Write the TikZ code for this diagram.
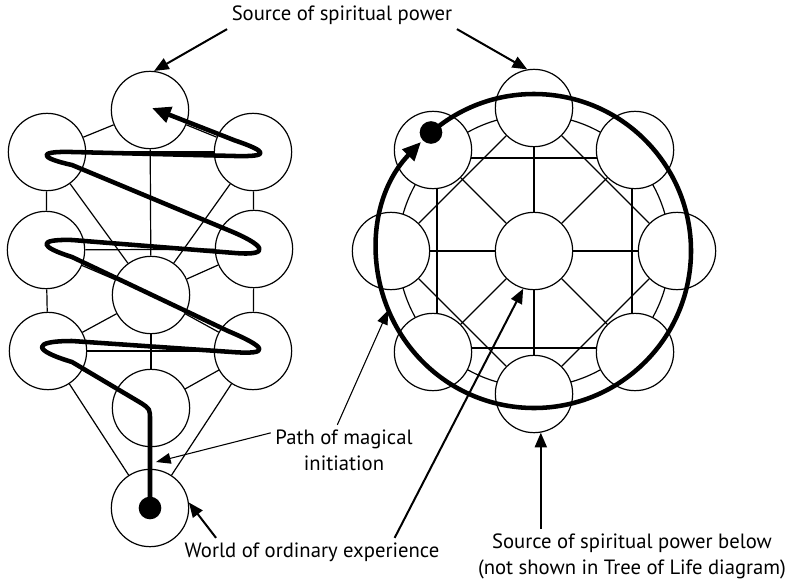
\documentclass[tikz,border=0pt]{standalone}
\usepackage{fontspec}
\setmainfont{PT Sans}
\usetikzlibrary{arrows.meta,calc}

\begin{document}
\begin{tikzpicture}[
    x=0.75pt, y=-0.75pt,
    sephira/.style={circle, draw, fill=white, line width=0.9pt, minimum size=58pt, inner sep=0pt},
    link/.style={line width=0.9pt},
    serpent/.style={line width=3.4pt, line cap=round, line join=round, -{Triangle[length=14pt, width=12pt]}},
    dot/.style={circle, fill=black, minimum size=17pt, inner sep=0pt},
    remark/.style={font=\fontsize{15.5}{19.5}\selectfont, align=center},
    note/.style={line width=1.5pt, -{Triangle[length=11pt, width=9pt]}},
    thinnote/.style={line width=0.8pt, -{Triangle[length=11pt, width=8pt]}}
]
\useasboundingbox (0,0) rectangle (792,582);

% Tree of Life
\node[sephira] (kether) at (150,110) {};
\node[sephira] (binah) at (47,152) {};
\node[sephira] (chokmah) at (253,152) {};
\node[sephira] (geburah) at (46,250) {};
\node[sephira] (chesed) at (254,249) {};
\node[sephira] (tiphareth) at (151,295) {};
\node[sephira] (hod) at (48,351) {};
\node[sephira] (netzach) at (253,351) {};
\node[sephira] (yesod) at (151,408) {};
\node[sephira] (malkuth) at (150,508) {};

% Paths of the tree
\draw[link] (kether) -- (chokmah);
\draw[link] (kether) -- (binah);
\draw[link] (kether) -- (tiphareth);
\draw[link] (binah) -- (chokmah);
\draw[link] (binah) -- (geburah);
\draw[link] (binah) -- (tiphareth);
\draw[link] (chokmah) -- (chesed);
\draw[link] (chokmah) -- (tiphareth);
\draw[link] (geburah) -- (chesed);
\draw[link] (geburah) -- (tiphareth);
\draw[link] (geburah) -- (hod);
\draw[link] (chesed) -- (tiphareth);
\draw[link] (chesed) -- (netzach);
\draw[link] (tiphareth) -- (hod);
\draw[link] (tiphareth) -- (netzach);
\draw[link] (tiphareth) -- (yesod);
\draw[link] (hod) -- (netzach);
\draw[link] (hod) -- (yesod);
\draw[link] (netzach) -- (yesod);
\draw[link] (hod) -- (malkuth);
\draw[link] (netzach) -- (malkuth);
\draw[link] (yesod) -- (malkuth);

% Wheel - ring and square behind the circles
\coordinate (hub pos) at (534,251);
\draw[link] (hub pos) circle[radius=136];
\draw[link] (437,158) rectangle (632,348);

\node[sephira] (hub) at (hub pos) {};
\node[sephira] (ringN) at (534,108) {};
\node[sephira] (ringNE) at (635,150) {};
\node[sephira] (ringE) at (677,251) {};
\node[sephira] (ringSE) at (635,352) {};
\node[sephira] (ringS) at (534,394) {};
\node[sephira] (ringSW) at (433,352) {};
\node[sephira] (ringW) at (391,251) {};
\node[sephira] (ringNW) at (433,150) {};

% Spokes and diamond
\draw[link] (hub) -- (ringN);
\draw[link] (hub) -- (ringNE);
\draw[link] (hub) -- (ringE);
\draw[link] (hub) -- (ringSE);
\draw[link] (hub) -- (ringS);
\draw[link] (hub) -- (ringSW);
\draw[link] (hub) -- (ringW);
\draw[link] (hub) -- (ringNW);
\draw[link] (ringN) -- (ringE);
\draw[link] (ringE) -- (ringS);
\draw[link] (ringS) -- (ringW);
\draw[link] (ringW) -- (ringN);

% Path of initiation - zigzag up the tree
\coordinate (climb) at (152,108);
\draw[serpent] (malkuth.center) -- (150,420)
    .. controls (150,409) .. (141,403)
    -- (72,362) .. controls (32,350) and (32,341) .. (72,341)
    -- (232,352) .. controls (272,355) and (266,347) .. (228,331)
    -- (72,257) .. controls (40,247) and (36,239) .. (72,240)
    -- (235,253) .. controls (272,256) and (265,245) .. (228,230)
    -- (72,165) .. controls (40,158) and (36,151) .. (72,152)
    -- (235,156) .. controls (272,157) and (266,151) .. (235,140.5)
    -- (climb);
\node[dot] (startdot) at (malkuth) {};

% Path of initiation - round the wheel
\node[dot] (ringdot) at ($(hub pos)+(229:157)$) {};
\draw[serpent] (ringdot.center) arc[start angle=229, end angle=584, radius=157];

% Labels
\node[remark] (powerlbl) at (342,15) {Source of spiritual power};
\node[remark] (initlbl) at (344,450) {Path of magical\\initiation};
\node[remark] (worldlbl) at (312,552) {World of ordinary experience};
\node[remark] (belowlbl) at (632,556) {Source of spiritual power below\\(not shown in Tree of Life diagram)};

\coordinate (serpentlow) at (156,462);
\coordinate (ringwest) at ($(hub pos)+(158:157)$);

% Arrows - labels
\draw[note] (powerlbl.south west) -- (kether.84);
\draw[note] (powerlbl.south east) -- (ringN.100);
\draw[thinnote] ([yshift=-6pt]initlbl.north west) -- (serpentlow);
\draw[thinnote] ([xshift=-5pt]initlbl.north) -- (ringwest);
\draw[note] ([xshift=27pt]worldlbl.north west) -- (malkuth.8);
\draw[note] ([xshift=-37pt]worldlbl.north east) -- (hub.-106);
\draw[note] (belowlbl.north -| ringS.-80) -- (ringS.-80);

\end{tikzpicture}
\end{document}
